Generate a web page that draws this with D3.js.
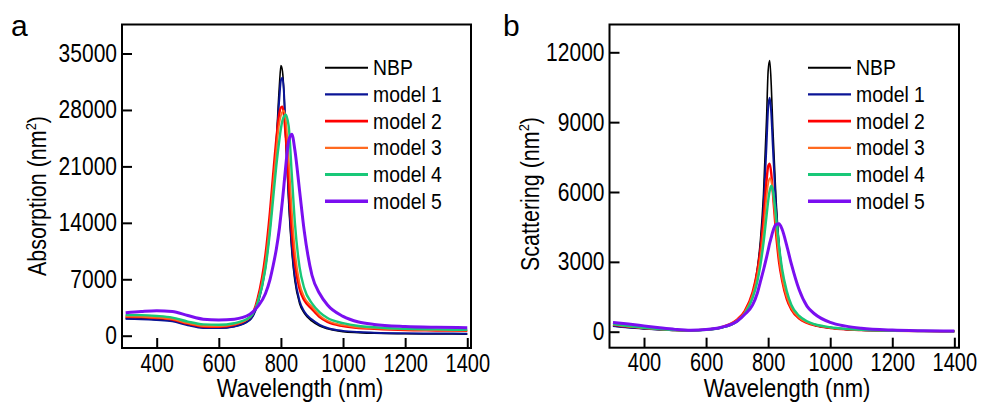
<!DOCTYPE html>
<html><head><meta charset="utf-8">
<script src="https://cdn.jsdelivr.net/npm/d3@7"></script>
<style>
html,body{margin:0;padding:0;background:#fff;}
svg{display:block;}
text{font-family:"Liberation Sans",Arial,sans-serif;}
</style></head>
<body><svg id="c" width="983" height="406"></svg>
<script>
// ---- data ----
const wavelengths = [300,350,400,450,500,550,600,650,700,725,750,765,775,785,795,800,805,810,815,825,835,845,860,875,900,925,950,1000,1050,1100,1200,1300,1400];
const seriesNames = ["NBP","model 1","model 2","model 3","model 4","model 5"];
const seriesColors = ["#000000","#0a1496","#ff0000","#ff6a20","#18c878","#7a0ff0"];
const seriesWidths = [1.6,2,2.4,1.8,2.4,3];

const absNBP = [2150,2100,2000,1850,1350,1000,950,1150,2000,4000,8800,14000,18500,24000,31000,33500,32800,30000,25000,16500,10500,6800,4000,2800,1800,1200,850,500,380,300,250,220,200];
const absM1  = [2100,2050,1950,1800,1300,950,950,1150,1950,3900,8500,13500,18000,23300,29500,31700,32000,30000,25500,17500,11200,7300,4300,3000,2000,1350,950,600,450,380,300,270,250];
const absM2  = [2350,2300,2200,2000,1500,1150,1100,1350,2300,4600,10000,15500,20000,24300,27600,28300,28400,27300,25000,19000,13000,9000,5800,4400,3300,2300,1700,1200,950,850,700,650,600];
const absM3  = [2400,2350,2250,2050,1550,1200,1150,1400,2250,4300,9200,14300,18800,23000,26400,27300,27800,27900,27000,22000,15500,10500,6500,4800,3600,2500,1850,1300,1000,900,750,680,620];
const absM4  = [2550,2550,2450,2250,1750,1400,1350,1550,2300,4100,8300,13000,17000,21000,24300,25700,26700,27200,27450,26000,20000,14000,8500,5900,4000,2900,2200,1550,1200,1050,850,780,720];
const absM5  = [2850,3000,3100,3000,2500,2050,1950,2050,2650,3600,5200,7000,8700,10700,13300,15000,16800,18800,20800,24200,25000,23000,18000,13000,7500,5200,3800,2400,1700,1400,1150,1050,1000];

const scaNBP = [250,180,130,90,60,50,80,170,450,800,1600,2700,3900,5900,9200,11200,11650,10600,8800,5800,3800,2600,1600,1050,600,400,280,160,100,70,40,25,20];
const scaM1  = [250,180,130,90,60,50,80,170,450,800,1550,2550,3600,5300,8100,9600,10050,9400,8000,5400,3600,2500,1550,1050,600,400,290,170,110,75,45,30,20];
const scaM2  = [300,220,160,110,70,55,90,200,520,900,1700,2600,3500,4800,6500,7100,7220,6800,6000,4300,3000,2200,1400,950,560,380,270,160,100,70,40,25,20];
const scaM3  = [300,220,160,110,70,55,90,200,500,850,1600,2400,3200,4300,5800,6350,6600,6500,6000,4500,3200,2300,1500,1000,600,400,290,170,110,75,45,30,20];
const scaM4  = [330,240,170,115,70,55,85,180,450,780,1450,2150,2850,3800,5000,5600,6050,6270,6100,5000,3700,2700,1750,1150,680,450,320,190,120,80,45,30,20];
const scaM5  = [400,330,250,170,100,60,90,190,450,750,1150,1650,2150,2650,3200,3500,3800,4050,4300,4600,4640,4400,3700,2900,1800,1100,760,400,240,150,70,40,25];

const wlTicks  = [400,600,800,1000,1200,1400];
const absTicks = [0,7000,14000,21000,28000,35000];
const scaTicks = [0,3000,6000,9000,12000];

// ---- drawing ----
const svg = d3.select("#c");
svg.append("rect").attr("width",983).attr("height",406).attr("fill","#fff");

function squeeze(sel,k){
  sel.each(function(){
    const L = this.getComputedTextLength();
    this.setAttribute("textLength", (L*k).toFixed(2));
    this.setAttribute("lengthAdjust","spacingAndGlyphs");
  });
}

function panel(cfg){
  const g = svg.append("g");
  const x = d3.scaleLinear().domain(cfg.xDom).range([cfg.left,cfg.right]);
  const y = d3.scaleLinear().domain(cfg.yDom).range([cfg.bottom,cfg.top]);
  const clipId = "clip"+cfg.letter;
  svg.append("clipPath").attr("id",clipId).append("rect")
    .attr("x",cfg.left).attr("y",cfg.top).attr("width",cfg.right-cfg.left).attr("height",cfg.bottom-cfg.top);

  const line = d3.line().x((d,i)=>x(wavelengths[i])).y(d=>y(d)).curve(d3.curveMonotoneX);
  const lg = g.append("g").attr("clip-path","url(#"+clipId+")");
  cfg.series.forEach((s,i)=>{
    lg.append("path").attr("d",line(s)).attr("fill","none")
      .attr("stroke",seriesColors[i]).attr("stroke-width",seriesWidths[i])
      .attr("stroke-linejoin","round");
  });

  const xa = g.append("g").attr("transform","translate(0,"+cfg.bottom+")")
    .call(d3.axisBottom(x).tickValues(wlTicks).tickSizeInner(-10).tickSizeOuter(0).tickPadding(6).tickFormat(d3.format("d")));
  const ya = g.append("g").attr("transform","translate("+cfg.left+",0)")
    .call(d3.axisLeft(y).tickValues(cfg.yTicks).tickSizeInner(-10).tickSizeOuter(0).tickPadding(5).tickFormat(d3.format("d")));
  [xa,ya].forEach(a=>{
    a.select(".domain").remove();
    a.selectAll("line").attr("stroke","#000").attr("stroke-width",2);
    a.selectAll("text").attr("font-family","'Liberation Sans',Arial,sans-serif").attr("font-size",25).attr("fill","#000");
  });
  squeeze(ya.selectAll("text"),0.84);
  squeeze(xa.selectAll("text"),0.8);
  xa.selectAll("text").attr("dy","0.71em");

  g.append("rect").attr("x",cfg.left).attr("y",cfg.top)
    .attr("width",cfg.right-cfg.left).attr("height",cfg.bottom-cfg.top)
    .attr("fill","none").attr("stroke","#000").attr("stroke-width",2);

  // axis titles
  g.append("text").attr("font-size",25).attr("text-anchor","middle")
    .attr("transform","translate("+cfg.xTitleX+",397) scale(0.88,1)").text("Wavelength (nm)");
  const yt = g.append("text").attr("font-size",25).attr("text-anchor","middle")
    .attr("transform","translate("+cfg.yTitleX+","+cfg.yTitleY+") rotate(-90) scale(0.86,1)");
  yt.append("tspan").text(cfg.yTitle+" (nm");
  yt.append("tspan").attr("font-size",15).attr("dy",-10).text("2");
  yt.append("tspan").attr("dy",10).text(")");

  // panel letter
  g.append("text").attr("font-size",30)
    .attr("x",cfg.letterX).attr("y",36).text(cfg.letter);

  // legend
  const leg = g.append("g");
  seriesNames.forEach((n,i)=>{
    const yy = cfg.legY0 + i*26.7;
    leg.append("line").attr("x1",cfg.legX).attr("x2",cfg.legX+43).attr("y1",yy).attr("y2",yy)
      .attr("stroke",seriesColors[i]).attr("stroke-width",seriesWidths[i]+0.4);
    const t = leg.append("text").attr("font-size",22).attr("x",cfg.legX+48).attr("y",yy)
      .attr("dominant-baseline","central").text(n);
    squeeze(t,0.88);
  });
}

panel({letter:"a",letterX:11,left:122,right:471,top:24.5,bottom:348,
  xDom:[288.3,1412],yDom:[-1525,38600],yTicks:absTicks,
  series:[absNBP,absM1,absM2,absM3,absM4,absM5],
  xTitleX:300,yTitleX:46,yTitleY:196,yTitle:"Absorption",legX:325,legY0:67.7});
panel({letter:"b",letterX:503,left:609.5,right:959,top:24.5,bottom:347.7,
  xDom:[288.8,1415],yDom:[-687,13194],yTicks:scaTicks,
  series:[scaNBP,scaM1,scaM2,scaM3,scaM4,scaM5],
  xTitleX:787,yTitleX:539,yTitleY:194,yTitle:"Scattering",legX:808,legY0:67.7});
</script></body></html>
